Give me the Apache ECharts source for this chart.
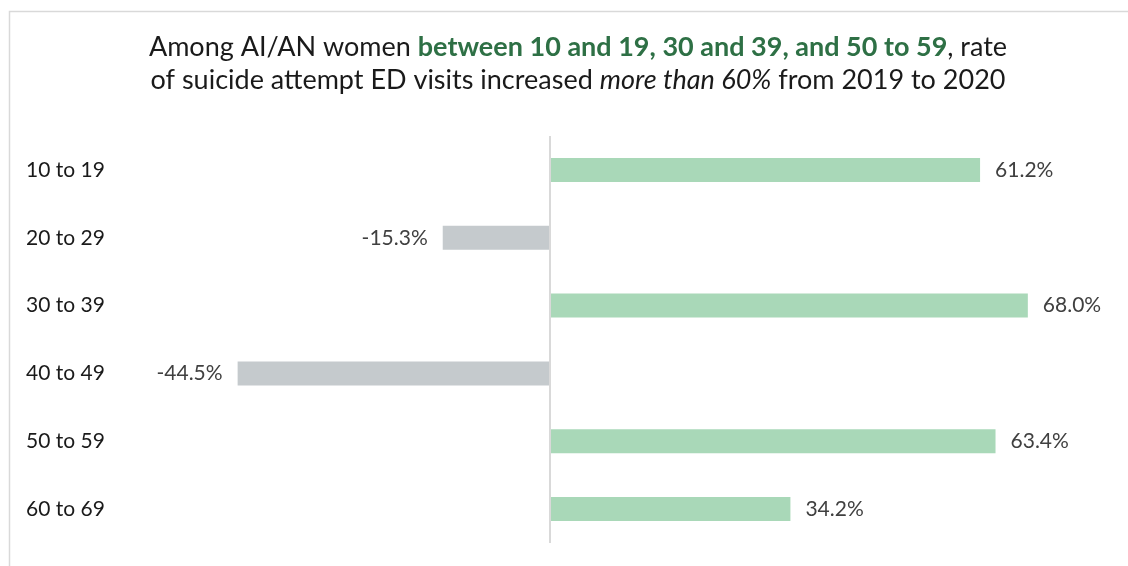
<!DOCTYPE html>
<html><head><meta charset="utf-8">
<script src="https://cdn.jsdelivr.net/npm/echarts@6/dist/echarts.min.js"></script>
<style>html,body{margin:0;padding:0;background:#fff}#c{width:1128px;height:566px}</style>
</head><body><div id="c"></div>
<script>
const categories = ['10 to 19','20 to 29','30 to 39','40 to 49','50 to 59','60 to 69'];
const values = [61.2, -15.3, 68.0, -44.5, 63.4, 34.2];
const FONT = 'Lato';
const chart = echarts.init(document.getElementById('c'));
chart.setOption({
  animation: false,
  backgroundColor: '#fff',
  textStyle: { fontFamily: FONT },
  graphic: [
    { type: 'rect', shape: { x: 9.5, y: 11.5, width: 1200, height: 600 }, style: { fill: 'none', stroke: '#d9d9d9', lineWidth: 1.5 }, silent: true },
    { type: 'text', x: 578, y: 31,
      style: {
        text: '{a|Among AI/AN women }{g|between 10 and 19, 30 and 39, and 50 to 59}{a|, rate}\n{a|of suicide attempt ED visits increased }{i|more than 60%}{a| from 2019 to 2020}',
        align: 'center', verticalAlign: 'top',
        rich: {
          a: { fontFamily: FONT, fontSize: 27, fill: '#1a1a1a', lineHeight: 33 },
          g: { fontFamily: FONT, fontSize: 27, fill: '#2e7045', fontWeight: 'bold', lineHeight: 33 },
          i: { fontFamily: FONT, fontSize: 27, fill: '#1a1a1a', fontStyle: 'italic', lineHeight: 33 }
        }
      }
    }
  ],
  grid: { left: 199, right: 51, top: 136, bottom: 23, containLabel: false },
  xAxis: { type: 'value', min: -50, max: 75, show: false, splitLine: { show: false } },
  yAxis: {
    type: 'category', data: categories, inverse: true,
    axisLine: { show: false }, axisTick: { show: false },
    axisLabel: { align: 'left', margin: 173, fontSize: 21, color: '#1a1a1a', fontFamily: FONT }
  },
  series: [{
    type: 'bar', barWidth: 24,
    data: values.map(v => ({
      value: v,
      itemStyle: { color: v >= 0 ? '#a9d8b8' : '#c5cacd' },
      label: { position: v >= 0 ? 'right' : 'left' }
    })),
    label: { show: true, distance: 15, fontSize: 21, color: '#404040', fontFamily: FONT,
      formatter: p => p.value.toFixed(1) + '%' },
    markLine: { silent: true, symbol: 'none', label: { show: false },
      lineStyle: { color: '#d9d9d9', width: 2, type: 'solid' },
      data: [{ xAxis: 0 }] }
  }]
});
</script></body></html>
